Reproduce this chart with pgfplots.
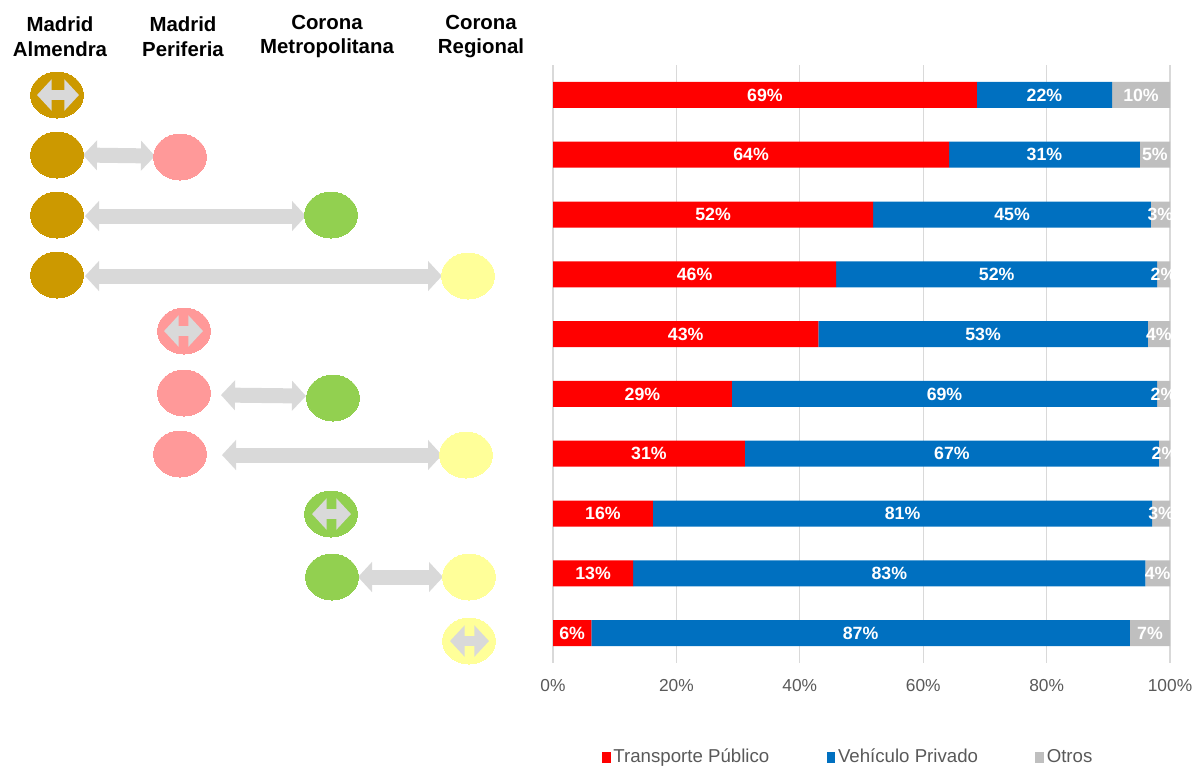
\documentclass[border=0pt]{standalone}
\usepackage{pgfplots}
\pgfplotsset{compat=1.18}
\usepackage{pgfplotstable}
\usepackage{fontspec}
\setmainfont{Liberation Sans}
\usetikzlibrary{arrows.meta}
\definecolor{tpred}{HTML}{FF0000}
\definecolor{vpblue}{HTML}{0070C0}
\definecolor{otgray}{HTML}{BFBFBF}
\definecolor{gold}{HTML}{CC9900}
\definecolor{pinkc}{HTML}{FF9999}
\definecolor{lgreen}{HTML}{92D050}
\definecolor{lyellow}{HTML}{FFFF99}
\definecolor{arrgray}{HTML}{D9D9D9}
\definecolor{txtgray}{HTML}{595959}
\definecolor{gridgray}{HTML}{D9D9D9}

\pgfplotstableread{
y a b c la lb lc
1 68.7 21.9 9.4 69 22 10
2 64.2 30.9 4.9 64 31 5
3 51.9 45.0 3.1 52 45 3
4 45.9 52.0 2.1 46 52 2
5 43.0 53.4 3.6 43 53 4
6 29.0 68.9 2.1 29 69 2
7 31.1 67.1 1.8 31 67 2
8 16.2 80.9 2.9 16 81 3
9 13.0 83.0 4.0 13 83 4
10 6.2 87.3 6.5 6 87 7
}\shares

\tikzset{
  longarr/.style={line width=11.25pt, color=arrgray, arrows={Triangle[width=22pt,length=10.5pt]-Triangle[width=22pt,length=10.5pt]}},
  shortarr/.style={line width=7.5pt, color=arrgray, arrows={Triangle[width=23pt,length=11pt]-Triangle[width=23pt,length=11pt]}},
}
\pgfplotsset{
  ell/.style={color=#1, only marks, mark=*, mark size=17.25pt, mark options={fill=#1, draw=#1, line width=0pt, xscale=1.15}},
  leftax/.style={at={(0pt,0pt)}, anchor=north west, scale only axis,
    width=405pt, height=573.75pt, xmin=0, xmax=540, ymin=0, ymax=765,
    y dir=reverse, hide axis, clip=false},
}

\begin{document}
\begin{tikzpicture}
% ---------------- left diagram ----------------
\begin{axis}[leftax]
\node[align=center, font=\bfseries\fontsize{15.3}{18.5}\selectfont] at (axis cs:60,36.5) {Madrid\\Almendra};
\node[align=center, font=\bfseries\fontsize{15.3}{18.5}\selectfont] at (axis cs:183,36.5) {Madrid\\Periferia};
\node[align=center, font=\bfseries\fontsize{15.3}{18.5}\selectfont] at (axis cs:327,36.5) {Corona\\Metropolitana};
\node[align=center, font=\bfseries\fontsize{15.3}{18.5}\selectfont] at (axis cs:481,36.5) {Corona\\Regional};
% connecting arrows
\addplot[longarr] coordinates {(83,155) (155,156)};
\addplot[longarr] coordinates {(85,216) (306,216)};
\addplot[longarr] coordinates {(85,276) (442,276)};
\addplot[longarr] coordinates {(221,395) (306,396)};
\addplot[longarr] coordinates {(222,455) (442,455)};
\addplot[longarr] coordinates {(358,577) (443,577)};
% ellipses
\addplot[ell=gold] coordinates {(57,95) (57,155) (57,215) (57,275)};
\addplot[ell=pinkc] coordinates {(180,157) (184,331) (184,393) (180,454)};
\addplot[ell=lgreen] coordinates {(331,215) (333,398) (331,514) (332,577)};
\addplot[ell=lyellow] coordinates {(468,276) (466,455) (469,577) (469,641)};
\end{axis}

% inner arrows (overlay)
\begin{axis}[leftax]
\addplot[shortarr] coordinates {(37,95) (79,95)};
\addplot[shortarr] coordinates {(164,331) (203,331)};
\addplot[shortarr] coordinates {(312,514) (351,514)};
\addplot[shortarr] coordinates {(450,641) (489,641)};
\end{axis}

% ---------------- stacked bars ----------------
\begin{axis}[at={(414.75pt,-48.75pt)}, anchor=north west, scale only axis,
  width=462.75pt, height=448.5pt,
  xbar stacked, bar width=19.5pt,
  xmin=0, xmax=100, ymin=0.5, ymax=10.5, y dir=reverse,
  ytick=\empty,
  xtick={0,20,...,100},
  xticklabel={\pgfmathprintnumber{\tick}\%},
  /pgf/number format/assume math mode=true,
  xticklabel style={font=\fontsize{13}{15}\selectfont, text=txtgray, yshift=-8.5pt},
  xmajorgrids, grid style={gridgray, line width=0.9pt},
  axis line style={draw=none},
  major tick length=0pt,
  legend columns=3,
  legend cell align=left,
  legend style={at={(0.479,-0.157)}, anchor=center, draw=none, fill=none,
    font=\fontsize{14}{15}\selectfont, text=txtgray,
    /tikz/every even column/.append style={column sep=41pt}},
  legend image code/.code={\fill[#1] (0pt,-4.5pt) rectangle (6.5pt,4pt);},
]
\addplot[fill=tpred, draw=none] table[x=a, y=y] {\shares};
\addlegendentry{Transporte Público}
\addplot[fill=vpblue, draw=none] table[x=b, y=y] {\shares};
\addlegendentry{Vehículo Privado}
\addplot[fill=otgray, draw=none] table[x=c, y=y] {\shares};
\addlegendentry{Otros}
\end{axis}

% ---------------- segment labels ----------------
\begin{axis}[at={(414.75pt,-48.75pt)}, anchor=north west, scale only axis,
  width=462.75pt, height=448.5pt,
  xmin=0, xmax=100, ymin=0.5, ymax=10.5, y dir=reverse,
  hide axis, clip=false,
  point meta=explicit symbolic,
  nodes near coords={\pgfplotspointmeta\%},
  nodes near coords style={anchor=center, text=white, font=\bfseries\fontsize{13.3}{15}\selectfont, inner sep=0pt},
]
\addplot[draw=none, mark=none] table[x expr=\thisrow{a}/2, y=y, meta=la] {\shares};
\addplot[draw=none, mark=none] table[x expr=\thisrow{a}+\thisrow{b}/2, y=y, meta=lb] {\shares};
\addplot[draw=none, mark=none] table[x expr=\thisrow{a}+\thisrow{b}+\thisrow{c}/2, y=y, meta=lc] {\shares};
\end{axis}

\pgfresetboundingbox
\useasboundingbox (0pt,0pt) rectangle (895.5pt,-573.75pt);
\end{tikzpicture}
\end{document}
